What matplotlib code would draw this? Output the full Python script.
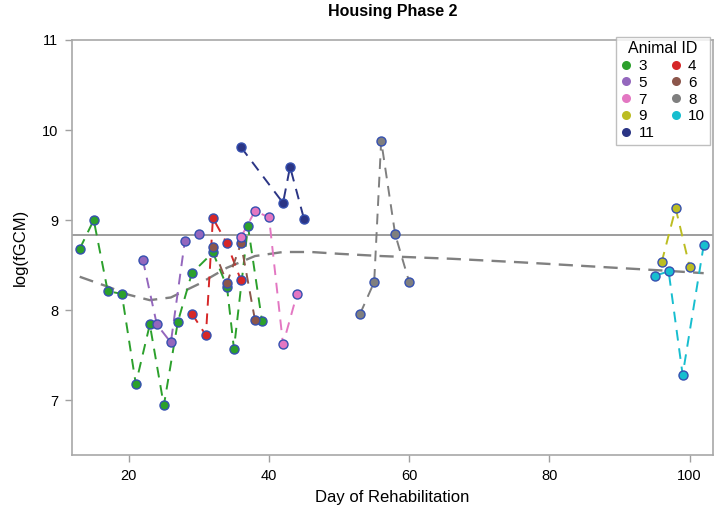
import matplotlib
matplotlib.use("Agg")
import matplotlib.pyplot as plt
from matplotlib.lines import Line2D

plt.rcParams['font.family'] = ['Liberation Sans', 'DejaVu Sans']

# ---- data ----
animal_ids = ["3", "4", "5", "6", "7", "8", "9", "10", "11"]
colors = ["#2ca02c", "#d62728", "#9467bd", "#8c564b", "#e377c2",
          "#7f7f7f", "#bcbd22", "#17becf", "#2b3585"]

days_3 = [13, 15, 17, 19, 21, 23, 25, 27, 29, 32, 34, 35, 37, 39]
vals_3 = [8.68, 9.00, 8.21, 8.18, 7.18, 7.84, 6.94, 7.87, 8.41, 8.64, 8.26, 7.57, 8.93, 7.88]
days_4 = [29, 31, 32, 34, 36]
vals_4 = [7.96, 7.72, 9.02, 8.74, 8.33]
days_5 = [22, 24, 26, 28, 30]
vals_5 = [8.56, 7.84, 7.64, 8.77, 8.84]
days_6 = [32, 34, 36, 38]
vals_6 = [8.70, 8.30, 8.74, 7.89]
days_7 = [36, 38, 40, 42, 44]
vals_7 = [8.81, 9.10, 9.03, 7.62, 8.18]
days_8 = [53, 55, 56, 58, 60]
vals_8 = [7.96, 8.31, 9.88, 8.84, 8.31]
days_9 = [96, 98, 100]
vals_9 = [8.53, 9.13, 8.48]
days_10 = [95, 97, 99, 102]
vals_10 = [8.38, 8.43, 7.28, 8.72]
days_11 = [36, 42, 43, 45]
vals_11 = [9.81, 9.19, 9.59, 9.01]

series_days = [days_3, days_4, days_5, days_6, days_7, days_8, days_9, days_10, days_11]
series_vals = [vals_3, vals_4, vals_5, vals_6, vals_7, vals_8, vals_9, vals_10, vals_11]

# overall smoothed trend
trend_days = [13, 17, 20, 23, 26, 30, 34, 38, 42, 46, 50, 56, 66, 76, 86, 96, 102]
trend_vals = [8.37, 8.26, 8.17, 8.11, 8.14, 8.29, 8.47, 8.60, 8.645, 8.645, 8.625,
              8.60, 8.57, 8.53, 8.485, 8.44, 8.41]

ref_level = 8.83

x_ticks = [20, 40, 60, 80, 100]
y_ticks = [7, 8, 9, 10, 11]

# ---- figure ----
fig = plt.figure(figsize=(7.2, 5.18), dpi=100)
ax = fig.add_axes([0.1, 0.1216, 0.890, 0.8012])

ax.axhline(ref_level, color="#8c8c8c", lw=1.2, zorder=1)
ax.plot(trend_days, trend_vals, color="#808080", lw=1.7,
        linestyle=(0, (6, 3.5)), zorder=2)

edge = "#3550b0"
for d, v, c in zip(series_days, series_vals, colors):
    ax.plot(d, v, color=c, lw=1.4, linestyle=(0, (5.5, 4)), zorder=3)
    ax.plot(d, v, linestyle="none", marker="o", markersize=6.5,
            markerfacecolor=c, markeredgecolor=edge, markeredgewidth=1.0, zorder=4)

ax.set_xlim(11.9, 103.3)
ax.set_ylim(6.39, 11.0)
ax.set_xticks(x_ticks)
ax.set_yticks(y_ticks)
ax.tick_params(axis="both", direction="out", length=5, width=1, color="#a0a0a0",
               labelsize=10.5, pad=5)
for s in ax.spines.values():
    s.set_color("#a8a8a8")
    s.set_linewidth(1.2)

ax.set_xlabel("Day of Rehabilitation", fontsize=12, labelpad=5)
ax.set_ylabel("log(fGCM)", fontsize=12, labelpad=10)
ax.set_title("Housing Phase 2", fontsize=11.5, fontweight="bold", pad=17)

# legend: row-wise order 3,4 / 5,6 / 7,8 / 9,10 / 11
handles = [Line2D([], [], linestyle="none", marker="o", markersize=6.5,
                  markerfacecolor=c, markeredgecolor="none") for c in colors]
order = [0, 2, 4, 6, 8, 1, 3, 5, 7]
leg = ax.legend([handles[i] for i in order], [animal_ids[i] for i in order],
                ncol=2, title="Animal ID", loc="upper right",
                bbox_to_anchor=(0.995, 1.008),
                fontsize=11, title_fontsize=11.5, frameon=True, fancybox=False,
                handlelength=0.8, handletextpad=0.4, columnspacing=1.0,
                labelspacing=0.18, borderpad=0.3, borderaxespad=0.0)
leg.get_frame().set_edgecolor("#b0b0b0")
leg.get_frame().set_linewidth(1.0)

fig.savefig("out.png", dpi=100)
